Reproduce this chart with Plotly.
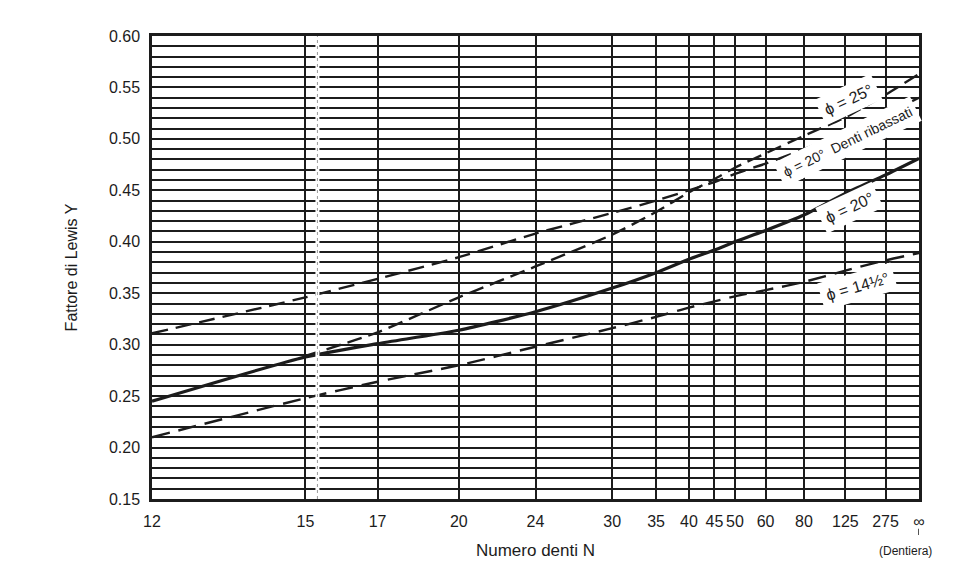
import plotly.graph_objects as go

# ---- data ----
teeth_labels = ["12", "15", "17", "20", "24", "30", "35", "40", "45", "50", "60", "80", "125", "275", "∞"]
teeth = [12, 15, 17, 20, 24, 30, 35, 40, 45, 50, 60, 80, 125, 275, float("inf")]

y_phi20 = [0.245, 0.288, 0.301, 0.314, 0.332, 0.355, 0.370, 0.383, 0.392, 0.400, 0.411, 0.426, 0.447, 0.465, 0.481]
y_phi14_5 = [0.210, 0.248, 0.264, 0.280, 0.298, 0.316, 0.327, 0.336, 0.342, 0.347, 0.353, 0.361, 0.372, 0.382, 0.389]
teeth_phi25 = teeth[1:]
y_phi25 = [0.289, 0.312, 0.346, 0.376, 0.407, 0.429, 0.448, 0.461, 0.472, 0.486, 0.503, 0.521, 0.543, 0.563]
y_stub = [0.311, 0.346, 0.364, 0.385, 0.408, 0.428, 0.440, 0.450, 0.458, 0.466, 0.476, 0.490, 0.506, 0.524, 0.540]

y_ticks = [0.15, 0.20, 0.25, 0.30, 0.35, 0.40, 0.45, 0.50, 0.55, 0.60]


def inv(n):
    return 0.0 if n == float("inf") else 1.0 / n


x_all = [inv(n) for n in teeth]
x_25 = [inv(n) for n in teeth_phi25]

INK = "#1c1c1c"
FONT = "Liberation Sans, Arial, sans-serif"

fig = go.Figure()

fig.add_trace(go.Scatter(x=x_all, y=y_phi20, mode="lines", line=dict(color=INK, width=3.2, shape="spline", smoothing=0.6), name="φ = 20°"))
fig.add_trace(go.Scatter(x=x_all, y=y_phi14_5, mode="lines", line=dict(color=INK, width=2.4, dash="18px,9px", shape="spline", smoothing=0.6), name="φ = 14½°"))
fig.add_trace(go.Scatter(x=x_25, y=y_phi25, mode="lines", line=dict(color=INK, width=2.4, dash="15px,7px", shape="spline", smoothing=0.6), name="φ = 25°"))
fig.add_trace(go.Scatter(x=x_all, y=y_stub, mode="lines", line=dict(color=INK, width=2.4, dash="16px,8px", shape="spline", smoothing=0.6), name="φ = 20° Denti ribassati"))

# scan artefact: faint dotted vertical line just right of 15
fig.add_shape(type="line", xref="x", yref="paper", x0=1 / 15.3, x1=1 / 15.3, y0=0, y1=1,
              line=dict(color="white", width=4), layer="above")
fig.add_shape(type="line", xref="x", yref="paper", x0=1 / 15.3, x1=1 / 15.3, y0=0, y1=1,
              line=dict(color="#9a9a9a", width=1, dash="dot"), layer="above")
# small mark under the infinity label
fig.add_shape(type="line", xref="x", yref="paper", x0=0, x1=0, y0=-0.064, y1=-0.078,
              line=dict(color=INK, width=1.5))

labels = [
    dict(text="ϕ = 25°", N=131, y=0.538, angle=-25, size=16),
    dict(text="ϕ = 20°  Denti ribassati", N=128, y=0.497, angle=-26, size=14),
    dict(text="ϕ = 20°", N=133, y=0.433, angle=-25, size=16),
    dict(text="ϕ = 14½°", N=150, y=0.357, angle=-16, size=16),
]
for lab in labels:
    fig.add_annotation(x=inv(lab["N"]), y=lab["y"], xref="x", yref="y", text=lab["text"],
                       showarrow=False, textangle=lab["angle"], bgcolor="white", borderpad=5,
                       font=dict(family=FONT, size=lab["size"], color=INK))

fig.add_annotation(x=0.982, y=-0.092, xref="paper", yref="paper", text="(Dentiera)", showarrow=False,
                   xanchor="center", yanchor="top",
                   font=dict(family=FONT, size=12, color=INK))

fig.update_layout(
    width=975, height=579,
    margin=dict(l=144, r=64, t=28, b=88, autoexpand=False),
    paper_bgcolor="white", plot_bgcolor="white",
    showlegend=False,
    font=dict(family=FONT, color=INK),
    xaxis=dict(
        range=[1 / 12, 0], tickmode="array", tickvals=x_all, ticktext=teeth_labels,
        showgrid=True, gridcolor=INK, gridwidth=2,
        showline=True, mirror=True, linecolor=INK, linewidth=2.5,
        ticks="", tickfont=dict(size=16, family=FONT, color=INK), ticklabelstandoff=6,
        zeroline=False, automargin=False,
        title=dict(text="Numero denti N", font=dict(size=17, family=FONT, color=INK), standoff=16),
    ),
    yaxis=dict(
        range=[0.15, 0.60], tickmode="array", tickvals=y_ticks,
        ticktext=[f"{v:.2f}" for v in y_ticks],
        showgrid=True, gridcolor=INK, gridwidth=2,
        minor=dict(dtick=0.01, tick0=0.15, showgrid=True, gridcolor=INK, gridwidth=2),
        showline=True, mirror=True, linecolor=INK, linewidth=2.5,
        ticks="", tickfont=dict(size=16, family=FONT, color=INK), ticklabelstandoff=6,
        zeroline=False, automargin=False,
        title=dict(text="Fattore di Lewis Y", font=dict(size=16, family=FONT, color=INK), standoff=28),
    ),
)

fig.write_html("out.html")
